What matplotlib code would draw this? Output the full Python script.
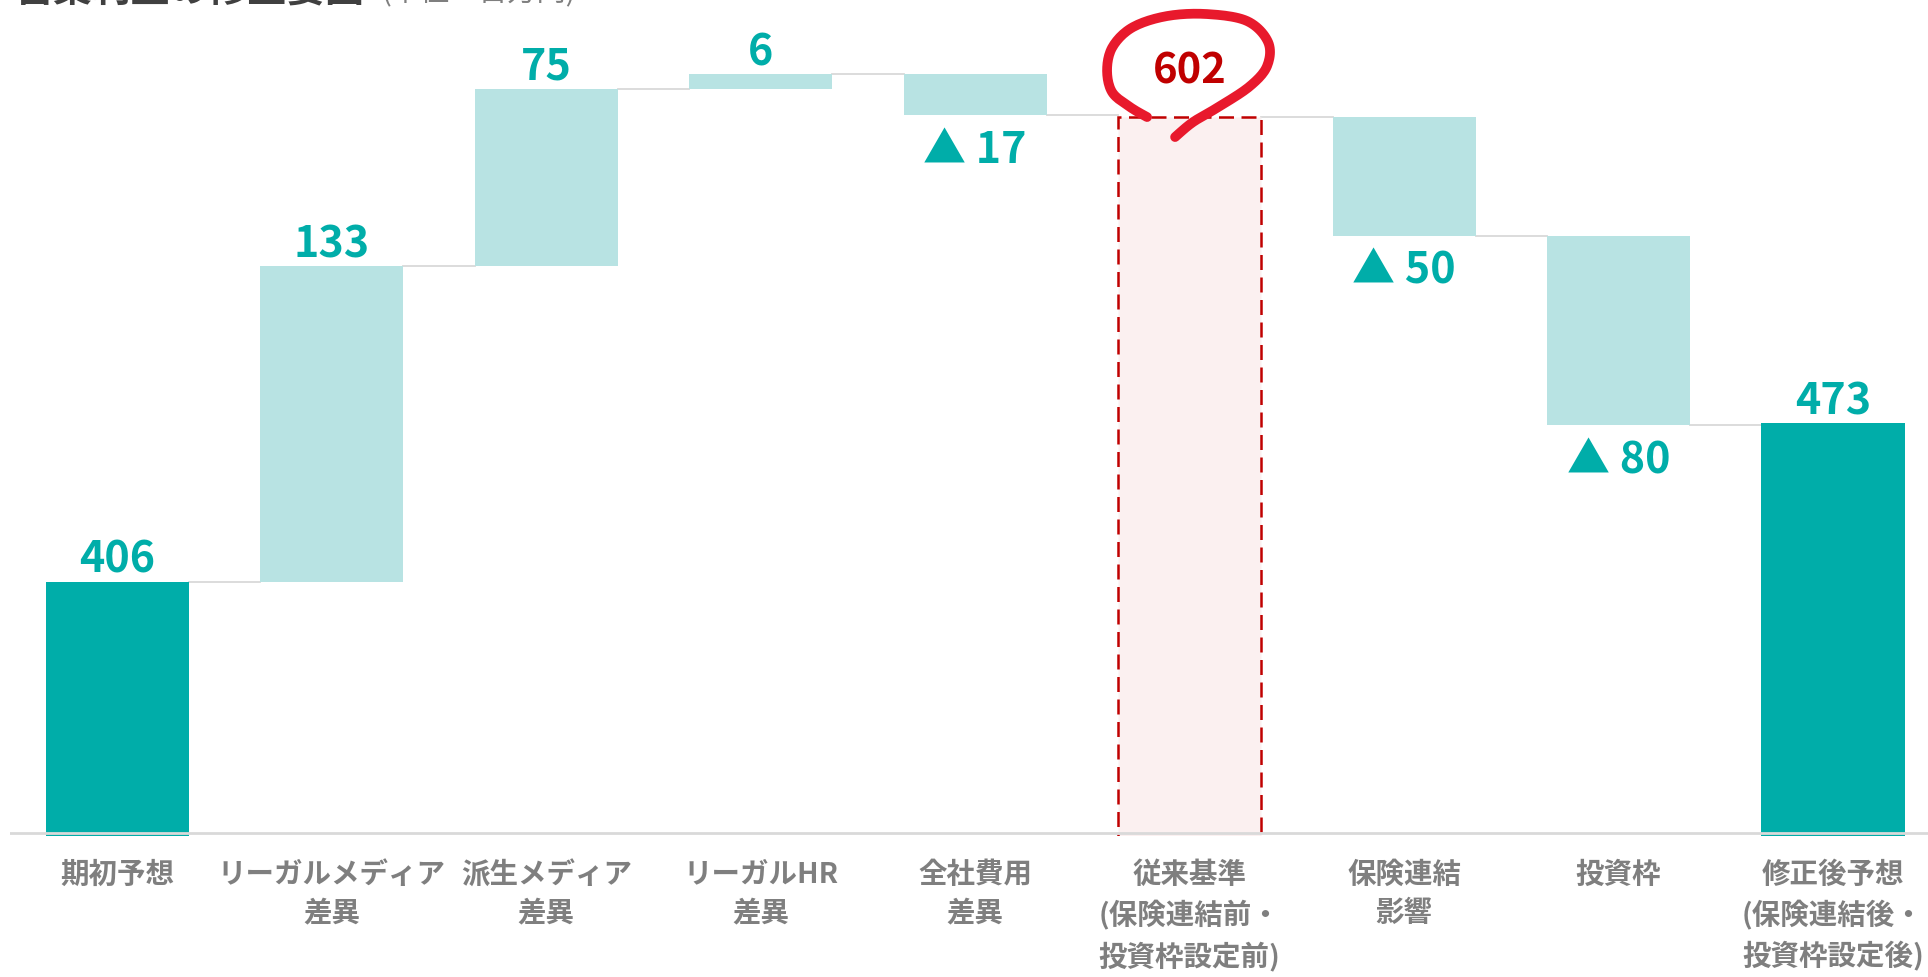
import numpy as np
import matplotlib
matplotlib.use('Agg')
import matplotlib.pyplot as plt
import matplotlib.transforms as mtransforms

plt.rcParams['font.family'] = ['Noto Sans CJK JP', 'DejaVu Sans']

# data
categories = ['期初予想', 'リーガルメディア\n差異', '派生メディア\n差異', 'リーガルHR\n差異',
              '全社費用\n差異', '従来基準\n(保険連結前・\n投資枠設定前)', '保険連結\n影響',
              '投資枠', '修正後予想\n(保険連結後・\n投資枠設定後)']
values = [406, 133, 75, 6, -17, 602, -50, -80, 473]
kinds = ['total', 'delta', 'delta', 'delta', 'delta', 'subtotal', 'delta', 'delta', 'total']

title = '営業利益の修正要因'
unit = '(単位：百万円)'

DARK = '#00ADA9'
LIGHT = '#B8E3E3'
GRID = '#D9D9D9'
RED = '#C00000'
PEN = '#E8192C'
LABEL = '#7F7F7F'

fig = plt.figure(figsize=(19.28, 9.78), dpi=100)
ax = fig.add_axes([10 / 1928, 141 / 978, 1 - 10 / 1928, 1 - 141 / 978])
ax.set_xlim(-0.5, 8.443)
ax.set_ylim(298.7, 651.8)
ax.autoscale(False)

x = np.arange(len(categories))
w = 0.667
level = 0
tops = []
for i, (v, k) in enumerate(zip(values, kinds)):
    if k == 'total':
        ax.bar(i, v, width=w, color=DARK, zorder=2)
        level = v
        ax.annotate(str(v), (i, v), xytext=(0, 7), textcoords='offset points',
                    ha='center', va='baseline', color=DARK, fontsize=31, fontweight='bold')
    elif k == 'subtotal':
        ax.bar(i, v, width=w, color='#FBF0F0', edgecolor=RED, linestyle=(0, (6, 3)),
               linewidth=1.8, zorder=2)
        level = v
        ax.annotate(str(v), (i, v), xytext=(0, 25), textcoords='offset points',
                    ha='center', va='baseline', color=RED, fontsize=30, fontweight='bold')
    else:
        start = level
        level = level + v
        ax.bar(i, v, bottom=start, width=w, color=LIGHT, zorder=2)
        if v >= 0:
            ax.annotate(str(v), (i, level), xytext=(0, 7), textcoords='offset points',
                        ha='center', va='baseline', color=DARK, fontsize=31, fontweight='bold')
        else:
            ax.annotate('▲ ' + str(-v), (i, level), xytext=(0, -34), textcoords='offset points',
                        ha='center', va='baseline', color=DARK, fontsize=31, fontweight='bold')
    tops.append(level)

# connector lines between bars
for i in range(len(values) - 1):
    ax.plot([i + w / 2, i + 1 - w / 2], [tops[i], tops[i]], color=GRID, lw=1.3, zorder=1)

ax.axhline(300, color=GRID, lw=2, zorder=3)

ax.set_xticks(x)
ax.set_xticklabels(categories, color=LABEL, fontsize=20.5, fontweight='bold', linespacing=1.47)
ax.tick_params(axis='x', length=0, pad=17)
ax.set_yticks([])
for s in ax.spines.values():
    s.set_visible(False)

# hand-drawn loop around the subtotal value (pixel offsets from bar top)
loop_dx = [-42.5, -59.5, -77.5, -82.5, -76.5, -56.5, -22.5, 17.5, 57.5, 78.5, 77.5, 60.5, 30.5, 3.5, -14.5]
loop_dy = [0, 10, 25, 48, 71, 90, 101, 103, 96, 75, 51, 31, 11, -5, -20]


def catmull_rom(px, py, n=12):
    px = np.r_[px[0], px, px[-1]]
    py = np.r_[py[0], py, py[-1]]
    outx, outy = [], []
    t = np.linspace(0, 1, n, endpoint=False)
    for j in range(1, len(px) - 2):
        for arr, out in ((px, outx), (py, outy)):
            p0, p1, p2, p3 = arr[j - 1], arr[j], arr[j + 1], arr[j + 2]
            out.extend(0.5 * (2 * p1 + (-p0 + p2) * t + (2 * p0 - 5 * p1 + 4 * p2 - p3) * t ** 2
                              + (-p0 + 3 * p1 - 3 * p2 + p3) * t ** 3))
    outx.append(px[-2])
    outy.append(py[-2])
    return np.array(outx), np.array(outy)


lx, ly = catmull_rom(np.array(loop_dx, float), np.array(loop_dy, float))
sub = kinds.index('subtotal')
trans = mtransforms.Affine2D().scale(fig.dpi / 100) + \
    mtransforms.ScaledTranslation(sub, values[sub], ax.transData)
ax.plot(lx, ly, color=PEN, lw=7, solid_capstyle='round', solid_joinstyle='round',
        transform=trans, clip_on=False, zorder=5)

# title, mostly cut off at the top edge (as in the source)
fig.text(15 / 1928, 1 - 1 / 978, title, fontsize=28, fontweight='bold', color='#404040', va='baseline')
fig.text(381 / 1928, 1 - 1 / 978, unit, fontsize=21, color=LABEL, va='baseline')

fig.savefig('out.png', dpi=100)
